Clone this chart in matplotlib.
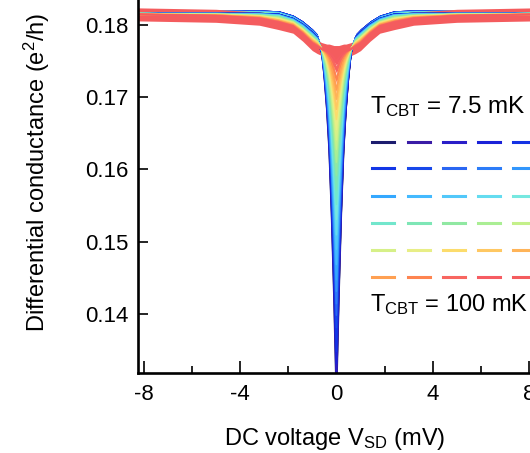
import numpy as np
import matplotlib
matplotlib.use('Agg')
import matplotlib.pyplot as plt

plt.rcParams['font.family'] = ['Liberation Sans', 'DejaVu Sans']
plt.rcParams['mathtext.fontset'] = 'custom'
plt.rcParams['mathtext.rm'] = 'Liberation Sans'
plt.rcParams['mathtext.it'] = 'Liberation Sans:italic'
plt.rcParams['mathtext.default'] = 'regular'
plt.rcParams['axes.unicode_minus'] = False

# ---------------- data ----------------
# bias points (mV) of the half profile; curves are symmetric in V
V_HALF = [0, 0.1, 0.2, 0.3, 0.4, 0.5, 0.6, 0.8, 1.0, 1.4, 1.8, 2.4, 3.2, 5.0, 8.3]

# differential conductance (e^2/h), coldest (7.5 mK) first, hottest (100 mK) last
G_HALF = [
    [.1283, .1421, .1536, .1626, .1684, .1727, .1760, .1782, .1789, .1800, .1808, .1814, .1815, .1815, .1815],
    [.1299, .1433, .1543, .1631, .1686, .1728, .1760, .1782, .1789, .1800, .1808, .1814, .1815, .1815, .1815],
    [.1316, .1445, .1552, .1636, .1690, .1730, .1761, .1782, .1789, .1800, .1808, .1814, .1815, .1815, .1815],
    [.1332, .1456, .1559, .1641, .1692, .1731, .1761, .1782, .1789, .1800, .1808, .1814, .1815, .1815, .1815],
    [.1349, .1469, .1567, .1646, .1695, .1732, .1761, .1782, .1789, .1800, .1808, .1814, .1815, .1815, .1815],
    [.1366, .1481, .1576, .1651, .1699, .1734, .1762, .1782, .1788, .1800, .1808, .1814, .1815, .1815, .1815],
    [.1382, .1492, .1583, .1656, .1701, .1735, .1762, .1781, .1788, .1799, .1808, .1813, .1815, .1815, .1815],
    [.1399, .1504, .1591, .1660, .1704, .1737, .1762, .1781, .1788, .1799, .1807, .1813, .1815, .1815, .1815],
    [.1415, .1516, .1599, .1666, .1707, .1739, .1763, .1781, .1788, .1799, .1807, .1813, .1814, .1815, .1815],
    [.1432, .1528, .1607, .1670, .1710, .1740, .1763, .1781, .1787, .1799, .1807, .1813, .1814, .1815, .1815],
    [.1448, .1539, .1615, .1675, .1713, .1741, .1763, .1780, .1787, .1798, .1807, .1813, .1814, .1815, .1815],
    [.1469, .1555, .1625, .1681, .1717, .1743, .1764, .1780, .1787, .1798, .1806, .1813, .1814, .1815, .1815],
    [.1490, .1570, .1635, .1687, .1720, .1745, .1764, .1780, .1786, .1798, .1806, .1812, .1814, .1814, .1815],
    [.1510, .1584, .1645, .1693, .1723, .1746, .1764, .1779, .1786, .1797, .1806, .1812, .1814, .1814, .1815],
    [.1531, .1599, .1655, .1700, .1728, .1749, .1765, .1779, .1785, .1797, .1805, .1812, .1813, .1814, .1815],
    [.1552, .1614, .1665, .1705, .1731, .1750, .1765, .1779, .1785, .1796, .1805, .1811, .1813, .1814, .1815],
    [.1572, .1628, .1675, .1712, .1735, .1752, .1765, .1778, .1784, .1796, .1805, .1811, .1813, .1814, .1815],
    [.1592, .1643, .1684, .1717, .1738, .1754, .1765, .1778, .1783, .1795, .1804, .1810, .1813, .1814, .1815],
    [.1610, .1655, .1693, .1722, .1741, .1755, .1765, .1777, .1783, .1795, .1804, .1810, .1812, .1814, .1815],
    [.1628, .1668, .1702, .1728, .1745, .1757, .1766, .1776, .1782, .1794, .1803, .1809, .1812, .1814, .1815],
    [.1641, .1678, .1708, .1732, .1747, .1758, .1766, .1776, .1781, .1793, .1803, .1808, .1812, .1814, .1815],
    [.1655, .1688, .1714, .1736, .1749, .1759, .1766, .1775, .1781, .1793, .1802, .1808, .1811, .1813, .1814],
    [.1669, .1698, .1722, .1740, .1752, .1760, .1766, .1775, .1780, .1792, .1802, .1807, .1811, .1813, .1814],
    [.1683, .1708, .1728, .1744, .1754, .1761, .1766, .1774, .1779, .1791, .1801, .1806, .1811, .1813, .1814],
    [.1697, .1718, .1735, .1748, .1756, .1762, .1766, .1773, .1778, .1790, .1800, .1806, .1810, .1813, .1814],
    [.1710, .1727, .1741, .1752, .1759, .1763, .1766, .1772, .1777, .1790, .1800, .1805, .1810, .1813, .1814],
    [.1724, .1737, .1748, .1755, .1760, .1764, .1766, .1772, .1776, .1789, .1799, .1804, .1809, .1813, .1814],
    [.1738, .1746, .1753, .1758, .1762, .1764, .1766, .1771, .1775, .1788, .1798, .1804, .1809, .1812, .1814],
    [.1749, .1754, .1758, .1761, .1763, .1765, .1766, .1770, .1774, .1787, .1798, .1803, .1808, .1812, .1814],
    [.1762, .1762, .1763, .1764, .1764, .1765, .1766, .1769, .1773, .1786, .1797, .1802, .1808, .1812, .1814],
]

CURVE_COLORS = [
    '#1c1c6e', '#3a1ca6', '#2a1ec8', '#1a22d8', '#1432e4',
    '#1236e6', '#1848ea', '#2a66f2', '#2c7cf8', '#3296fc',
    '#34a8ff', '#44baff', '#52c8fa', '#64dcf0', '#76e8e0',
    '#72e6cc', '#7ee6b6', '#90e8a2', '#aaee94', '#c4f08a',
    '#d6f088', '#e8ee86', '#fcdc6c', '#ffc862', '#ffb458',
    '#ffa052', '#fe8450', '#f86660', '#f65c62', '#f45c5e',
]

X_TICKS = [-8, -4, 0, 4, 8]
X_MINOR = [-6, -2, 2, 6]
Y_TICKS = [0.14, 0.15, 0.16, 0.17, 0.18]
Y_TICKLABELS = ['0.14', '0.15', '0.16', '0.17', '0.18']
LABEL_COLD = r'T$_{CBT}$ = 7.5 mK'
LABEL_HOT = r'T$_{CBT}$ = 100 mK'

# ---------------- figure ----------------
W, H = 530, 453
fig = plt.figure(figsize=(W / 100, H / 100), dpi=100)
ax = fig.add_axes([138 / W, 80 / H, (W - 138) / W, 373 / H])

v_half = np.array(V_HALF)
v_full = np.concatenate([-v_half[::-1], v_half[1:]])
n = len(G_HALF)
for k, (g, c) in enumerate(zip(G_HALF, CURVE_COLORS)):
    g = np.array(g)
    g_full = np.concatenate([g[::-1], g[1:]])
    d = 0.0009 if k == n - 1 else 0.0005
    ax.fill_between(v_full, g_full - d, g_full + d, color=c, lw=0)
    ax.plot(v_full, g_full, color=c, lw=1.2, solid_joinstyle='round')

ax.set_xlim(-8.23, 8.03)
ax.set_ylim(0.13193, 0.18338)
ax.set_xticks(X_TICKS)
ax.set_xticklabels([str(t) for t in X_TICKS])
ax.set_xticks(X_MINOR, minor=True)
ax.set_yticks(Y_TICKS)
ax.set_yticklabels(Y_TICKLABELS)
ax.tick_params(axis='x', which='major', direction='in', length=9, width=1.2,
               labelsize=16, pad=8)
ax.tick_params(axis='x', which='minor', direction='in', length=5, width=1.2)
ax.tick_params(axis='y', which='major', direction='in', length=7, width=1.2,
               labelsize=16, pad=7)
for s in ['top', 'right']:
    ax.spines[s].set_visible(False)
for s in ['left', 'bottom']:
    ax.spines[s].set_linewidth(1.9)

ax.set_xlabel(r'DC voltage V$_{SD}$ (mV)', fontsize=17, va='baseline')
ax.set_ylabel(r'Differential conductance (e$^{2}$/h)', fontsize=17, va='baseline')
ax.xaxis.set_label_coords((335 - 138) / 392, (373 - 445) / 373)
ax.yaxis.set_label_coords((45 - 138) / 392, (373 - 172) / 373)

# colour key: 6 rows x 5 dashes
row_y = [141.7, 168.3, 196.0, 222.7, 250.0, 277.3]
col_x = [372, 407.5, 443, 478, 513]
dash_len = 22
for i, c in enumerate(CURVE_COLORS):
    r, cc = divmod(i, 5)
    x0 = col_x[cc] / W
    x1 = (col_x[cc] + dash_len) / W
    y = 1 - row_y[r] / H
    fig.add_artist(plt.Line2D([x0, x1], [y, y], color=c, lw=2.2,
                              transform=fig.transFigure))

fig.text(370 / W, 1 - 113.3 / H, LABEL_COLD, fontsize=17.5, va='baseline', ha='left')
fig.text(370 / W, 1 - 310.7 / H, LABEL_HOT, fontsize=17, va='baseline', ha='left')

fig.savefig('out.png', dpi=100)
